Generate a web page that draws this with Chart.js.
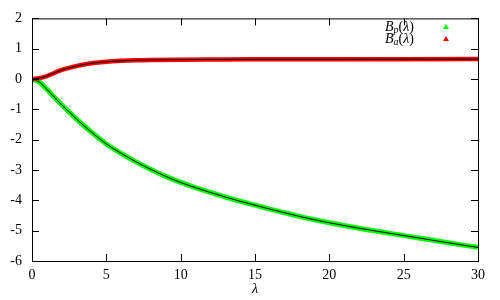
<!DOCTYPE html>
<html>
<head>
<meta charset="utf-8">
<script src="https://cdn.jsdelivr.net/npm/chart.js@4.4.0/dist/chart.umd.min.js"></script>
<style>
  html, body { margin: 0; padding: 0; background: #fff; }
  #wrap { width: 500px; height: 300px; }
</style>
</head>
<body>
<div id="wrap"><canvas id="grafico"></canvas></div>
<script>
// valores
const lambdaBp = [0, 0.5, 1, 1.5, 2, 2.5, 3, 3.5, 4, 4.5, 5, 6, 7, 8, 9, 10, 11, 12, 13, 14, 15, 16, 17, 18, 19, 20, 22, 24, 26, 28, 30];
const valoresBp = [0, -0.1, -0.34, -0.6, -0.85, -1.09, -1.32, -1.54, -1.75, -1.95, -2.14, -2.45, -2.73, -2.98, -3.21, -3.41, -3.58, -3.74, -3.89, -4.03, -4.16, -4.29, -4.41, -4.53, -4.64, -4.74, -4.92, -5.08, -5.24, -5.40, -5.55];

const lambdaBa = [0, 0.5, 1, 1.5, 2, 2.5, 3, 3.5, 4, 5, 6, 7, 8, 10, 12, 15, 20, 25, 30];
const valoresBa = [0, 0.03, 0.1, 0.2, 0.3, 0.37, 0.43, 0.48, 0.52, 0.57, 0.6, 0.62, 0.63, 0.64, 0.645, 0.65, 0.65, 0.655, 0.66];

const ticksX = [0, 5, 10, 15, 20, 25, 30];
const ticksY = [-6, -5, -4, -3, -2, -1, 0, 1, 2];

const etiquetas = [
  { base: 'B', sub: 'p', color: '#00ff00' },
  { base: 'B', sub: 'a', color: '#ff0000' }
];

const serif = '"Liberation Serif"';
Chart.defaults.font.family = serif;

const puntos = (xs, ys) => xs.map((x, i) => ({ x, y: ys[i] }));

// borde estilo gnuplot, ticks hacia adentro y leyenda
const marcoGnuplot = {
  id: 'marcoGnuplot',
  afterDraw(chart) {
    const { ctx, chartArea: a, scales } = chart;
    ctx.save();
    ctx.strokeStyle = '#000';
    ctx.lineWidth = 1;
    ctx.strokeRect(a.left + 0.5, a.top + 0.5, a.right - a.left, a.bottom - a.top);
    ctx.beginPath();
    ticksX.forEach(v => {
      const px = Math.round(scales.x.getPixelForValue(v)) + 0.5;
      ctx.moveTo(px, a.bottom); ctx.lineTo(px, a.bottom - 7);
      ctx.moveTo(px, a.top); ctx.lineTo(px, a.top + 7);
    });
    ticksY.forEach(v => {
      const py = Math.round(scales.y.getPixelForValue(v)) + 0.5;
      ctx.moveTo(a.left, py); ctx.lineTo(a.left + 7, py);
      ctx.moveTo(a.right, py); ctx.lineTo(a.right - 7, py);
    });
    ctx.stroke();

    // leyenda
    etiquetas.forEach((e, i) => {
      const y = 27 + i * 12;
      ctx.fillStyle = '#000';
      ctx.textBaseline = 'middle';
      ctx.textAlign = 'left';
      ctx.font = 'italic 14px ' + serif;
      const wB = ctx.measureText(e.base).width;
      ctx.font = 'italic 10px ' + serif;
      const wS = ctx.measureText(e.sub).width;
      ctx.font = '14px ' + serif;
      const wP = ctx.measureText('(').width;
      ctx.font = 'italic 14px ' + serif;
      const wL = ctx.measureText('λ').width;
      ctx.font = '14px ' + serif;
      const wC = ctx.measureText(')').width;
      let x = 414 - (wB + wS + wP + wL + wC);
      ctx.font = 'italic 14px ' + serif;
      ctx.fillText(e.base, x, y); x += wB;
      ctx.font = 'italic 10px ' + serif;
      ctx.fillText(e.sub, x, y + 3); x += wS;
      ctx.font = '14px ' + serif;
      ctx.fillText('(', x, y); x += wP;
      ctx.font = 'italic 14px ' + serif;
      ctx.fillText('λ', x, y); x += wL;
      ctx.font = '14px ' + serif;
      ctx.fillText(')', x, y);

      ctx.fillStyle = e.color;
      ctx.beginPath();
      ctx.moveTo(446, y - 3);
      ctx.lineTo(449, y + 2);
      ctx.lineTo(443, y + 2);
      ctx.closePath();
      ctx.fill();
    });
    ctx.restore();
  }
};

const ctx = document.getElementById('grafico').getContext('2d');
new Chart(ctx, {
  type: 'line',
  data: {
    datasets: [
      { label: 'Ba ajuste', data: puntos(lambdaBa, valoresBa), borderColor: '#000', borderWidth: 1, order: 0 },
      { label: 'Ba', data: puntos(lambdaBa, valoresBa), borderColor: '#ff0000', borderWidth: 4.5, order: 1 },
      { label: 'Bp ajuste', data: puntos(lambdaBp, valoresBp), borderColor: '#000', borderWidth: 1, order: 2 },
      { label: 'Bp', data: puntos(lambdaBp, valoresBp), borderColor: '#00ff00', borderWidth: 5, order: 3 }
    ]
  },
  options: {
    responsive: true,
    maintainAspectRatio: false,
    animation: false,
    layout: { padding: { left: 0, right: 22, top: 14, bottom: 0 } },
    elements: {
      point: { radius: 0 },
      line: { cubicInterpolationMode: 'monotone', fill: false }
    },
    plugins: {
      legend: { display: false },
      tooltip: { enabled: false }
    },
    scales: {
      x: {
        type: 'linear',
        min: 0, max: 30,
        afterFit: s => { s.height = 39; },
        afterBuildTicks: s => { s.ticks = ticksX.map(v => ({ value: v })); },
        ticks: { color: '#000', padding: 6, font: { family: serif, size: 14 } },
        grid: { display: false, drawTicks: false },
        border: { display: false },
        title: { display: true, text: 'λ', color: '#000', padding: { top: 0, bottom: 2 }, font: { family: serif, size: 14, style: 'italic' } }
      },
      y: {
        min: -6, max: 2,
        afterFit: s => { s.width = 32; },
        afterBuildTicks: s => { s.ticks = ticksY.map(v => ({ value: v })); },
        ticks: { color: '#000', padding: 10, font: { family: serif, size: 14 } },
        grid: { display: false, drawTicks: false },
        border: { display: false }
      }
    }
  },
  plugins: [marcoGnuplot]
});
</script>
</body>
</html>
